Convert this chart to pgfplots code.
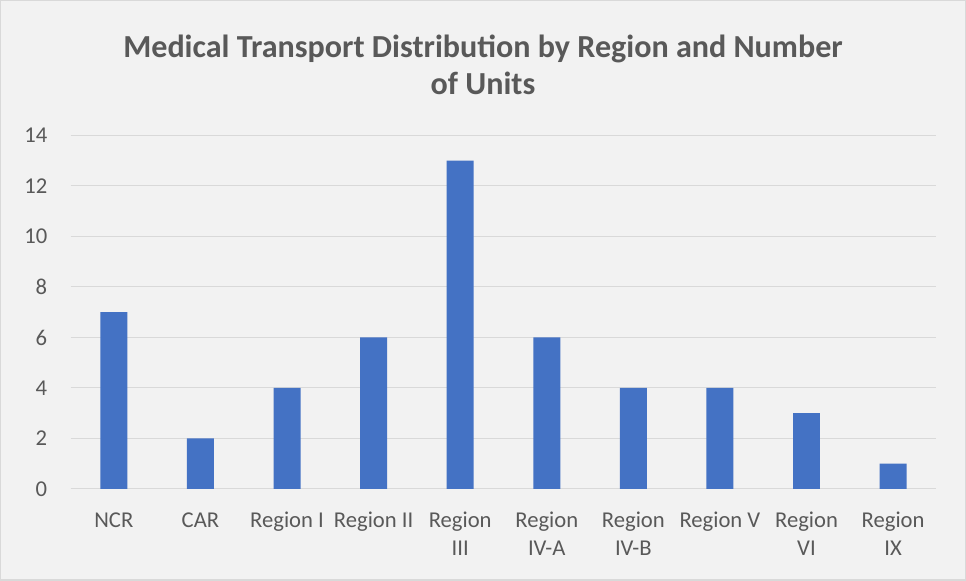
\documentclass[border=0pt]{standalone}
\usepackage{fontspec}
\setmainfont{Carlito}
\usepackage{pgfplots}
\pgfplotsset{compat=1.18}
\definecolor{barblue}{HTML}{4472C4}
\definecolor{txtgray}{HTML}{595959}
\definecolor{gridgray}{HTML}{D9D9D9}
\definecolor{bggray}{HTML}{F2F2F2}
\begin{document}
\begin{tikzpicture}
% frame of the chart (966 x 580 px, 1px = 0.75pt)
\fill[bggray, draw=gridgray, line width=1pt] (-52.5pt,-68.25pt) rectangle (672pt,366.75pt);
\begin{axis}[
    at={(0,0)}, anchor=south west,
    scale only axis,
    width=650.25pt, height=265.5pt,
    ybar, bar width=20.25pt,
    xmin=-0.5, xmax=9.5,
    ymin=0, ymax=14, ytick={0,2,...,14},
    xtick=data,
    xticklabels={NCR,CAR,Region I,Region II,Region\\III,Region\\IV-A,Region\\IV-B,Region V,Region\\VI,Region\\IX},
    x tick label style={align=center, font=\fontsize{17}{21}\selectfont, text=txtgray, yshift=-14pt},
    y tick label style={font=\fontsize{17}{21}\selectfont, text=txtgray, xshift=-14pt},
    /pgf/number format/assume math mode=true,
    major tick length=0pt,
    axis line style={draw=none},
    axis x line*=bottom,
    ymajorgrids, grid style={gridgray, line width=0.75pt},
    separate axis lines,
    x axis line style={draw=gridgray, line width=0.75pt},
    axis background/.style={fill=bggray},
    clip=false,
]
\addplot[fill=barblue, draw=none] coordinates {
    (0,7) (1,2) (2,4) (3,6) (4,13) (5,6) (6,4) (7,4) (8,3) (9,1)
};
\end{axis}
\node[align=center, font=\fontsize{24.1}{27.75}\selectfont\bfseries, text=txtgray] at (309.75pt,318.4pt)
    {Medical Transport Distribution by Region and Number\\of Units};
\end{tikzpicture}
\end{document}
